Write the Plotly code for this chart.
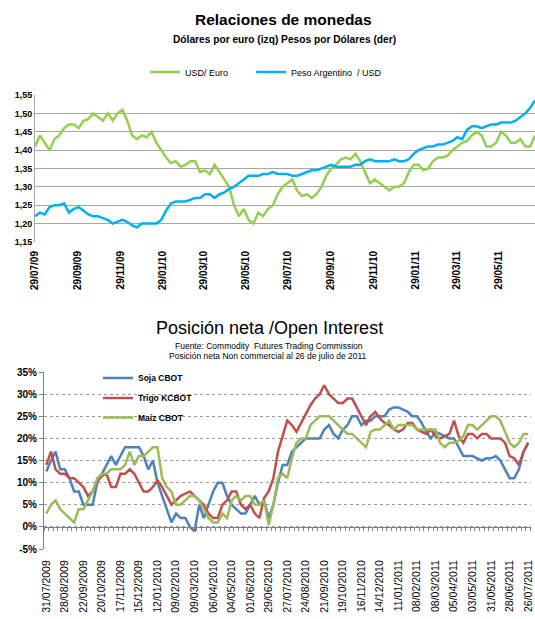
import plotly.graph_objects as go
import pandas as pd

# ---------------- Top chart data (weekly readings) ----------------
usd_euro = [1.41, 1.44, 1.42, 1.40, 1.43, 1.44, 1.46, 1.47, 1.47, 1.46,
            1.48, 1.485, 1.50, 1.49, 1.48, 1.50, 1.48, 1.50, 1.51, 1.48,
            1.44, 1.43, 1.44, 1.435, 1.45, 1.42, 1.40, 1.38, 1.365, 1.37,
            1.355, 1.36, 1.37, 1.37, 1.34, 1.345, 1.335, 1.36, 1.34, 1.32,
            1.30, 1.25, 1.22, 1.24, 1.21, 1.20, 1.23, 1.22, 1.24, 1.25,
            1.28, 1.30, 1.31, 1.32, 1.29, 1.275, 1.28, 1.27, 1.28, 1.30,
            1.33, 1.35, 1.36, 1.375, 1.38, 1.375, 1.39, 1.37, 1.34, 1.31,
            1.32, 1.31, 1.30, 1.29, 1.30, 1.30, 1.31, 1.34, 1.36, 1.36,
            1.345, 1.35, 1.37, 1.38, 1.38, 1.385, 1.40, 1.41, 1.42, 1.425,
            1.44, 1.45, 1.44, 1.41, 1.41, 1.42, 1.45, 1.44, 1.42, 1.42,
            1.43, 1.41, 1.41, 1.44]
peso_usd = [1.22, 1.23, 1.225, 1.245, 1.25, 1.25, 1.255, 1.23, 1.24, 1.245,
            1.235, 1.225, 1.22, 1.22, 1.215, 1.21, 1.20, 1.205, 1.21, 1.205,
            1.195, 1.19, 1.20, 1.20, 1.20, 1.20, 1.21, 1.235, 1.255, 1.26,
            1.26, 1.26, 1.265, 1.27, 1.27, 1.28, 1.28, 1.27, 1.28, 1.285,
            1.295, 1.30, 1.31, 1.32, 1.33, 1.33, 1.33, 1.335, 1.335, 1.34,
            1.335, 1.335, 1.335, 1.33, 1.33, 1.335, 1.34, 1.345, 1.345, 1.35,
            1.355, 1.36, 1.355, 1.355, 1.355, 1.355, 1.36, 1.36, 1.37, 1.375,
            1.37, 1.37, 1.37, 1.37, 1.375, 1.37, 1.37, 1.375, 1.39, 1.40,
            1.405, 1.41, 1.41, 1.415, 1.415, 1.42, 1.425, 1.435, 1.43, 1.455,
            1.465, 1.465, 1.46, 1.465, 1.47, 1.47, 1.475, 1.475, 1.475, 1.48,
            1.49, 1.50, 1.515, 1.535]
top_dates = pd.date_range("2009-07-29", periods=len(usd_euro), freq="7D")
top_tickvals = ["2009-07-29", "2009-09-29", "2009-11-29", "2010-01-29", "2010-03-29",
                "2010-05-29", "2010-07-29", "2010-09-29", "2010-11-29", "2011-01-29",
                "2011-03-29", "2011-05-29"]

# ---------------- Bottom chart data (weekly, %) ----------------
soja = [12.5, 15, 17, 13, 13, 11, 8, 8, 5, 5,
        5, 10, 12, 14, 16, 14, 16, 18, 18, 18,
        18, 16, 13, 15, 10, 7, 4, 1, 3, 2,
        2, 0, -1, 5, 2, 5, 8, 10, 10, 7,
        5, 4, 3, 3, 5, 7, 5, 6, 2, 5,
        10, 14, 14, 17, 18, 19, 20, 20, 20, 20,
        22, 23, 21, 20, 22, 23, 25, 25, 23, 24,
        24, 25, 25, 25, 26.5, 27, 27, 26.5, 26, 25,
        25, 23.5, 21.5, 20, 21.5, 21, 20.5, 20, 20, 18,
        16, 16, 16, 15.5, 15, 15.5, 15.5, 16, 15, 13,
        11, 11, 13, 17, 19]
trigo = [14, 17, 13, 12, 12, 11, 11, 10, 9, 7,
         8, 10.5, 11.5, 12, 9, 9, 12, 12, 13, 12,
         10, 8, 8, 9, 10.5, 9, 7, 5, 6, 7,
         7.5, 8, 7, 6, 5, 3, 2, 2, 5, 6,
         8, 8, 5, 4, 5, 3, 2, 6.5, 8, 11,
         17, 20.5, 24, 23, 21.5, 23.5, 25.5, 27.5, 29, 30,
         32, 30, 29, 28, 28, 29, 29, 27, 25, 23,
         25, 26, 24.5, 23.5, 23, 22, 21.5, 22, 23.5, 23.5,
         22, 21.5, 21, 22, 20.5, 20, 20.5, 21, 24, 20.5,
         19, 21, 21, 20, 21, 21, 20, 20, 20, 19,
         16, 15.5, 14, 17, 19]
maiz = [3, 5, 6, 4, 3, 2, 1, 4, 4, 6,
        8, 11, 12, 12, 13, 13, 13, 14, 17, 14,
        16, 16, 17, 18, 18, 11, 9, 8, 5, 5,
        6, 7, 7, 6, 4, 2, 1, 1, 3, 2,
        6, 7, 6, 7, 7, 5, 5, 6, 0.5, 5,
        11, 12, 11, 15.5, 19, 20, 20, 23, 24, 25,
        25, 25, 24, 23, 22, 21, 21, 20, 19, 18,
        21.5, 22, 22, 23, 24, 22, 23, 23, 23, 23,
        22, 22, 22, 22, 22, 19, 18, 19, 19, 19.5,
        20.5, 23, 23, 22, 23, 24, 25, 25, 24, 21.5,
        19, 18, 19, 21, 21]
week_index = list(range(len(soja)))
bottom_tick_idx = list(range(0, len(soja), 4))
bottom_tick_labels = ["31/07/2009", "28/08/2009", "22/09/2009", "20/10/2009", "17/11/2009",
                      "15/12/2009", "12/01/2010", "09/02/2010", "09/03/2010", "06/04/2010",
                      "04/05/2010", "01/06/2010", "29/06/2010", "27/07/2010", "24/08/2010",
                      "21/09/2010", "19/10/2010", "16/11/2010", "14/12/2010", "11/01/2011",
                      "08/02/2011", "08/03/2011", "05/04/2011", "03/05/2011", "31/05/2011",
                      "28/06/2011", "26/07/2011"]
pct_ticks = [-5, 0, 5, 10, 15, 20, 25, 30, 35]
pct_labels = ["-5%", "0%", "5%", "10%", "15%", "20%", "25%", "30%", "35%"]

W, H = 535, 619
FONT = "Liberation Sans, Arial, sans-serif"

def py(px):
    return 1 - px / H

def pxx(px):
    return px / W

fig = go.Figure()
fig.add_trace(go.Scatter(x=top_dates, y=usd_euro, name="USD/ Euro", mode="lines",
                         line=dict(color="#92D050", width=2.5), xaxis="x", yaxis="y",
                         legend="legend"))
fig.add_trace(go.Scatter(x=top_dates, y=peso_usd, name="Peso Argentino  / USD", mode="lines",
                         line=dict(color="#00B0F0", width=2.5), xaxis="x", yaxis="y",
                         legend="legend2"))
fig.add_trace(go.Scatter(x=week_index, y=soja, name="Soja CBOT", mode="lines",
                         line=dict(color="#4F81BD", width=2.5), xaxis="x2", yaxis="y2",
                         legend="legend3"))
fig.add_trace(go.Scatter(x=week_index, y=trigo, name="Trigo KCBOT", mode="lines",
                         line=dict(color="#C0504D", width=2.5), xaxis="x2", yaxis="y2",
                         legend="legend4"))
fig.add_trace(go.Scatter(x=week_index, y=maiz, name="Maíz CBOT", mode="lines",
                         line=dict(color="#9BBB59", width=2.5), xaxis="x2", yaxis="y2",
                         legend="legend5"))
# helper trace so the 0% category axis (with week ticks) is drawn
fig.add_trace(go.Scatter(x=[None], y=[None], xaxis="x3", yaxis="y2", showlegend=False,
                         hoverinfo="skip"))

leg_common = dict(font=dict(family=FONT, size=9, color="#000"), bgcolor="rgba(0,0,0,0)",
                  borderwidth=0, xanchor="left", yanchor="middle")
leg_bold = dict(font=dict(family=FONT, size=8.5, color="#000", weight="bold"),
                bgcolor="rgba(0,0,0,0)", borderwidth=0, xanchor="left", yanchor="middle")

fig.update_layout(
    width=W, height=H, margin=dict(l=0, r=0, t=0, b=0, autoexpand=False),
    paper_bgcolor="white", plot_bgcolor="white",
    separators=",.",
    font=dict(family=FONT, color="#000"),
    xaxis=dict(type="date", domain=[pxx(35), 1], anchor="y", automargin=False,
               range=["2009-07-29", "2011-07-20"],
               tickvals=top_tickvals, tickformat="%d/%m/%y", tickangle=-90,
               tickfont=dict(family=FONT, size=10, color="#000", weight="bold"),
               ticks="outside", ticklen=4, tickcolor="rgba(0,0,0,0)",
               showgrid=False, showline=False, zeroline=False),
    yaxis=dict(domain=[py(242), py(95)], anchor="x", range=[1.15, 1.55], dtick=0.05,
               automargin=False,
               tickformat=".2f", gridcolor="#a6a6a6", gridwidth=1,
               showline=True, linecolor="#a6a6a6", zeroline=False,
               tickfont=dict(family=FONT, size=9, color="#000", weight="bold")),
    xaxis2=dict(domain=[pxx(44), pxx(530.5)], anchor="y2", range=[-0.5, 104.5],
                automargin=False, ticklabeloverflow="allow",
                tickvals=bottom_tick_idx, ticktext=bottom_tick_labels, tickangle=-90,
                tickfont=dict(family=FONT, size=10.5, color="#000"),
                ticks="outside", ticklen=6, tickcolor="rgba(0,0,0,0)",
                showgrid=False, showline=False, zeroline=False),
    xaxis3=dict(overlaying="x2", anchor="free", position=py(527), range=[-0.5, 104.5],
                automargin=False,
                tickvals=[k - 0.5 for k in range(len(soja) + 1)], ticks="outside",
                ticklen=3, tickcolor="#808080", showticklabels=False, showgrid=False,
                showline=True, linecolor="#808080", linewidth=1, zeroline=False),
    yaxis2=dict(domain=[py(549), py(372)], anchor="x2", range=[-5, 35],
                automargin=False,
                tickvals=pct_ticks, ticktext=pct_labels,
                griddash="dot", gridcolor="#9a9a9a", gridwidth=1,
                showline=True, linecolor="#808080", zeroline=False,
                ticks="outside", ticklen=4, tickcolor="#808080",
                tickfont=dict(family=FONT, size=10, color="#000", weight="bold")),
    legend=dict(x=pxx(145), y=py(72), **leg_common),
    legend2=dict(x=pxx(251), y=py(72), **leg_common),
    legend3=dict(x=pxx(98), y=py(378), **leg_bold),
    legend4=dict(x=pxx(98), y=py(398), **leg_bold),
    legend5=dict(x=pxx(98), y=py(417.5), **leg_bold),
    showlegend=True,
)

annots = [
    ("Relaciones de monedas", 283, 20, 15.5, "bold"),
    ("Dólares por euro (izq) Pesos por Dólares (der)", 284, 39, 10.2, "bold"),
    ("Posición neta /Open Interest", 270, 328, 18, "normal"),
    ("Fuente: Commodity  Futures Trading Commission", 269, 345.5, 8.5, "normal"),
    ("Posición neta Non commercial al 26 de julio de 2011", 268, 356, 8.5, "normal"),
]
for txt, x, y, s, w in annots:
    fig.add_annotation(text=txt, x=pxx(x), y=py(y), xref="paper", yref="paper",
                       xanchor="center", yanchor="middle", showarrow=False,
                       font=dict(family=FONT, size=s, color="#000", weight=w))

fig.write_html("out.html")
